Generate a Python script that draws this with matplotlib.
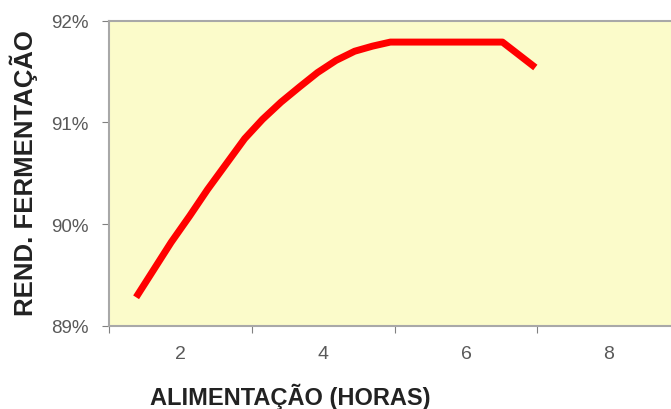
import matplotlib.pyplot as plt
from matplotlib.ticker import FixedLocator, FixedFormatter

# valores
horas = [1.38, 1.87, 2.13, 2.38, 2.64, 2.90, 3.15, 3.41, 3.67, 3.92, 4.18, 4.44, 4.69, 4.94, 6.51, 6.97]
rend = [89.28, 89.82, 90.08, 90.34, 90.59, 90.84, 91.03, 91.20, 91.35, 91.49, 91.61, 91.70, 91.75, 91.79, 91.79, 91.54]

x_marcas = [1, 3, 5, 7, 9]
x_rotulos = [2, 4, 6, 8]
y_ticks = [89, 90, 91, 92]

plt.rcParams['font.family'] = ['Liberation Sans', 'DejaVu Sans']

fig = plt.figure(figsize=(6.71, 4.10), dpi=100)
ax = fig.add_axes([0.1624, 0.203, 0.8376, 0.744])
ax.set_facecolor('#fbfbca')

ax.plot(horas, rend, color='#ff0000', linewidth=5, solid_capstyle='butt', solid_joinstyle='round')

ax.set_xlim(1, 8.87)
ax.set_ylim(89, 92)

ax.xaxis.set_major_locator(FixedLocator(x_marcas))
ax.xaxis.set_major_formatter(FixedFormatter([''] * len(x_marcas)))
ax.xaxis.set_minor_locator(FixedLocator(x_rotulos))
ax.xaxis.set_minor_formatter(FixedFormatter([str(v) for v in x_rotulos]))
ax.tick_params(axis='x', which='major', length=5, direction='out', color='#808080')
ax.tick_params(axis='x', which='minor', length=0, pad=14, labelsize=14, labelcolor='#595959')

ax.set_yticks(y_ticks)
ax.set_yticklabels([f'{v}%' for v in y_ticks])
ax.tick_params(axis='y', length=5, direction='out', color='#808080', pad=10, labelsize=13.5, labelcolor='#595959')

ax.spines['right'].set_visible(False)
for s in ['left', 'bottom', 'top']:
    ax.spines[s].set_color('#a8a8a8')
    ax.spines[s].set_linewidth(1.5)

fig.text(0.036, 0.578, 'REND. FERMENTAÇÃO', rotation=90, ha='center', va='center',
         fontsize=18.5, fontweight='bold', color='#222222')
fig.text(0.432, 0.032, 'ALIMENTAÇÃO (HORAS)', ha='center', va='center',
         fontsize=17, fontweight='bold', color='#222222')

fig.savefig('out.png', dpi=100, facecolor='white')
